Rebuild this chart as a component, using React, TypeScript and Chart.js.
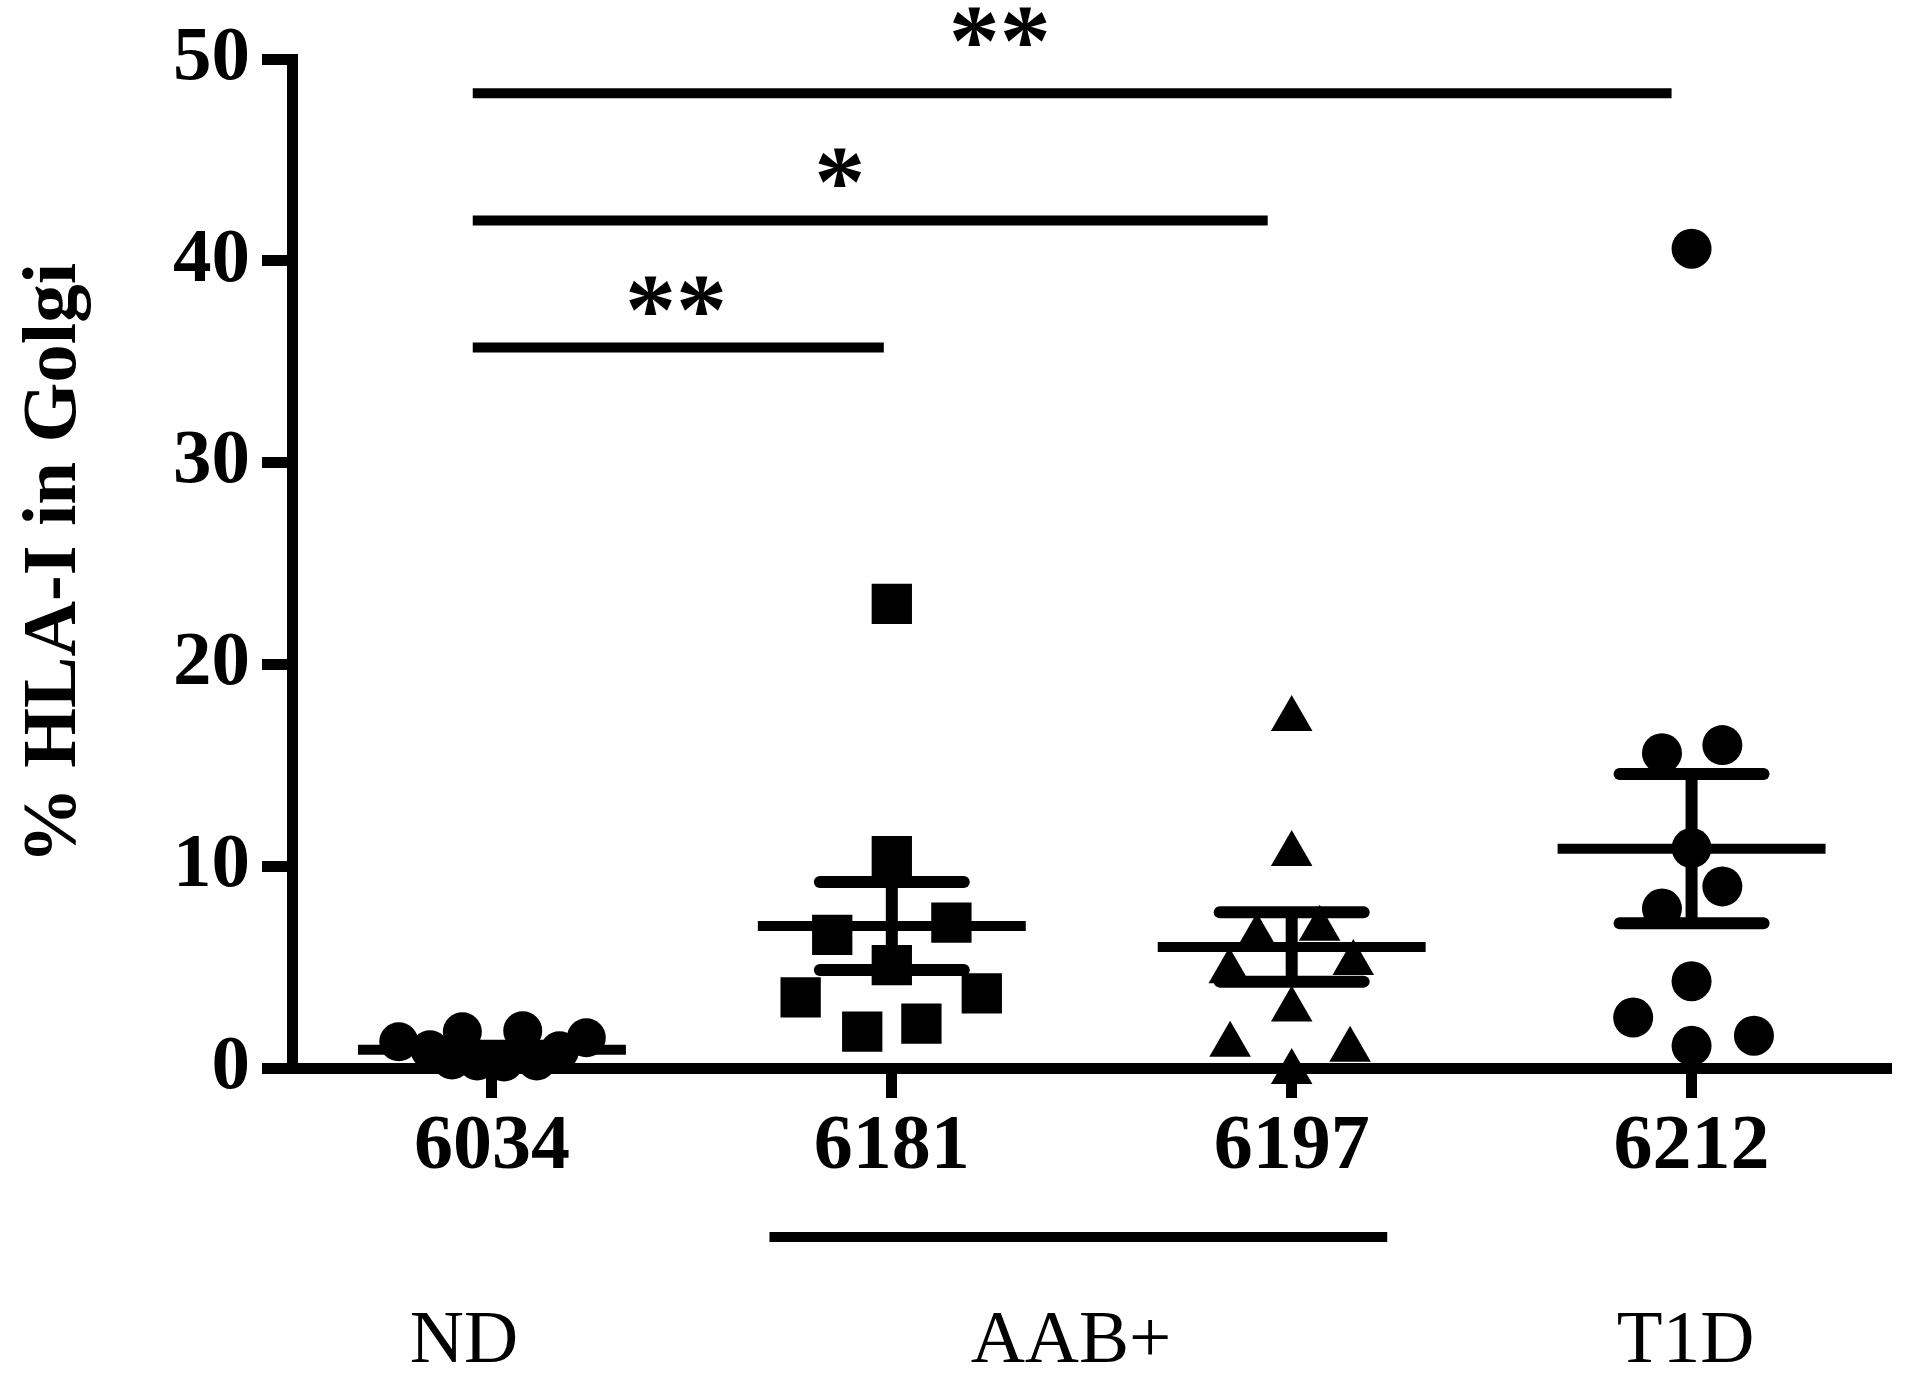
import React, { useEffect, useRef } from 'react';
import { Chart, registerables } from 'chart.js';

Chart.register(...registerables);

// ---------- data ----------
const categories = ['6034', '6181', '6197', '6212'];
const yTickValues = [0, 10, 20, 30, 40, 50];
const yTitle = '% HLA-I in Golgi';

// group 6034 (ND) - circles
const values6034 = [1.3, 0.9, 1.8, 0.35, 0.3, 0.35, 1.85, 0.85, 1.5, 0.4];
const jitter6034 = [-0.233, -0.155, -0.074, -0.037, 0.03, 0.112, 0.077, 0.169, 0.236, -0.1];

// group 6181 (AAB+) - squares
const values6181 = [23.0, 10.5, 6.6, 7.2, 5.1, 3.5, 3.7, 1.8, 2.2];
const jitter6181 = [0, 0, -0.149, 0.149, 0, -0.228, 0.225, -0.074, 0.074];

// group 6197 (AAB+) - triangles
const values6197 = [17.3, 10.6, 6.9, 6.5, 4.8, 5.2, 2.9, 1.15, 0.9, -0.2];
const jitter6197 = [0, 0, 0.07, -0.087, -0.156, 0.154, 0, -0.154, 0.146, 0];

// group 6212 (T1D) - circles
const values6212 = [40.6, 15.6, 16.0, 10.9, 9.0, 7.9, 4.3, 2.5, 1.6, 1.1];
const jitter6212 = [0, -0.074, 0.077, 0, 0.077, -0.074, 0, -0.146, 0.156, 0];

// mean and SEM per group
const means = [0.9, 7.04, 6.0, 10.87];
const sems = [0.2, 2.18, 1.72, 3.7];

// significance comparisons
const sigFrom = [-0.048, -0.048, -0.048];
const sigTo = [0.98, 1.94, 2.95];
const sigY = [35.7, 42.0, 48.3];
const sigText = ['**', '*', '**'];
const sigTextX = [0.46, 0.87, 1.27];
const sigTextY = [35.9, 42.2, 49.2];

// group labels below axis
const groupLabels = ['ND', 'AAB+', 'T1D'];
const groupLabelX = [-0.07, 1.448, 2.985];
const aabBracketFrom = 0.694;
const aabBracketTo = 2.239;

// ---------- styles ----------
const SERIF = "'Liberation Serif', 'Times New Roman', serif";
const BLACK = '#000000';
const MEAN_HALF = 0.335;
const CAP_HALF = 0.18;

export default function App() {
  const canvasRef = useRef<HTMLCanvasElement | null>(null);

  useEffect(() => {
    document.body.style.margin = '0';
    const canvas = canvasRef.current;
    if (!canvas) return;

    const groups = [
      { values: values6034, jitter: jitter6034, style: 'circle', radius: 19.5 },
      { values: values6181, jitter: jitter6181, style: 'rect', radius: 28.5 },
      { values: values6197, jitter: jitter6197, style: 'triangle', radius: 24 },
      { values: values6212, jitter: jitter6212, style: 'circle', radius: 20 },
    ];

    const datasets: any[] = [];
    groups.forEach((g, i) => {
      datasets.push({
        type: 'scatter',
        label: categories[i],
        data: g.values.map((v, k) => ({ x: i + g.jitter[k], y: v })),
        pointStyle: g.style,
        pointRadius: g.radius,
        pointHoverRadius: g.radius,
        backgroundColor: BLACK,
        borderColor: BLACK,
        borderWidth: 0,
        clip: false,
      });
    });

    const lineDs = (pts: { x: number; y: number }[], width: number, cap: string) => ({
      type: 'scatter',
      data: pts,
      showLine: true,
      borderColor: BLACK,
      backgroundColor: BLACK,
      borderWidth: width,
      borderCapStyle: cap,
      pointRadius: 0,
      pointHoverRadius: 0,
      clip: false,
    });

    means.forEach((m, i) => {
      const s = sems[i];
      datasets.push(lineDs([{ x: i - MEAN_HALF, y: m }, { x: i + MEAN_HALF, y: m }], 10, 'butt'));
      datasets.push(lineDs([{ x: i, y: m - s }, { x: i, y: m + s }], 12, 'butt'));
      datasets.push(lineDs([{ x: i - CAP_HALF, y: m + s }, { x: i + CAP_HALF, y: m + s }], 12, 'round'));
      datasets.push(lineDs([{ x: i - CAP_HALF, y: m - s }, { x: i + CAP_HALF, y: m - s }], 12, 'round'));
    });

    const annotations = {
      id: 'annotations',
      afterDatasetsDraw(chart: any) {
        const { ctx } = chart;
        const xs = chart.scales.x;
        const ys = chart.scales.y;
        ctx.save();
        ctx.fillStyle = BLACK;
        ctx.strokeStyle = BLACK;
        // significance bars
        ctx.lineWidth = 10;
        ctx.lineCap = 'butt';
        for (let k = 0; k < sigY.length; k++) {
          const py = ys.getPixelForValue(sigY[k]);
          ctx.beginPath();
          ctx.moveTo(xs.getPixelForValue(sigFrom[k]), py);
          ctx.lineTo(xs.getPixelForValue(sigTo[k]), py);
          ctx.stroke();
          ctx.font = `bold 102px ${SERIF}`;
          ctx.textAlign = 'center';
          ctx.textBaseline = 'alphabetic';
          ctx.fillText(sigText[k], xs.getPixelForValue(sigTextX[k]), ys.getPixelForValue(sigTextY[k]));
        }
        // group labels
        const axisBottom = chart.chartArea.bottom;
        const bracketY = axisBottom + 169;
        ctx.beginPath();
        ctx.moveTo(xs.getPixelForValue(aabBracketFrom), bracketY);
        ctx.lineTo(xs.getPixelForValue(aabBracketTo), bracketY);
        ctx.stroke();
        ctx.font = `75px ${SERIF}`;
        ctx.textAlign = 'center';
        ctx.textBaseline = 'alphabetic';
        groupLabels.forEach((t, k) => {
          ctx.fillText(t, xs.getPixelForValue(groupLabelX[k]), axisBottom + 294);
        });
        ctx.restore();
      },
    };

    const chart = new Chart(canvas, {
      type: 'scatter',
      data: { datasets },
      options: {
        responsive: false,
        animation: false,
        devicePixelRatio: 1,
        layout: { padding: { top: 59, right: 16, left: 0, bottom: 0 } },
        plugins: { legend: { display: false }, tooltip: { enabled: false } },
        scales: {
          x: {
            type: 'linear',
            min: -0.5,
            max: 3.5,
            afterBuildTicks: (s: any) => {
              s.ticks = categories.map((_, i) => ({ value: i }));
            },
            afterFit: (s: any) => {
              s.height = 307;
            },
            ticks: {
              autoSkip: false,
              maxRotation: 0,
              padding: 3,
              color: BLACK,
              font: { family: SERIF, weight: 'bold', size: 78 },
              callback: (v: any) => categories[Math.round(Number(v))] ?? '',
            },
            grid: {
              drawOnChartArea: false,
              drawTicks: true,
              tickLength: 30,
              tickWidth: 11,
              tickColor: BLACK,
            },
            border: { display: true, width: 11, color: BLACK },
          },
          y: {
            type: 'linear',
            min: 0,
            max: 50,
            afterBuildTicks: (s: any) => {
              s.ticks = yTickValues.map((v) => ({ value: v }));
            },
            afterFit: (s: any) => {
              s.width = 292;
            },
            ticks: {
              padding: 12,
              color: BLACK,
              font: { family: SERIF, weight: 'bold', size: 77 },
            },
            grid: {
              drawOnChartArea: false,
              drawTicks: true,
              tickLength: 30,
              tickWidth: 11,
              tickColor: BLACK,
            },
            border: { display: true, width: 11, color: BLACK },
            title: {
              display: true,
              text: yTitle,
              color: BLACK,
              font: { family: SERIF, weight: 'bold', size: 77 },
              padding: { top: 9, bottom: 0 },
            },
          },
        },
      },
      plugins: [annotations],
    } as any);

    return () => chart.destroy();
  }, []);

  return (
    <div style={{ width: 1920, height: 1375, background: '#fff' }}>
      <canvas ref={canvasRef} width={1920} height={1375} style={{ display: 'block' }} />
    </div>
  );
}
